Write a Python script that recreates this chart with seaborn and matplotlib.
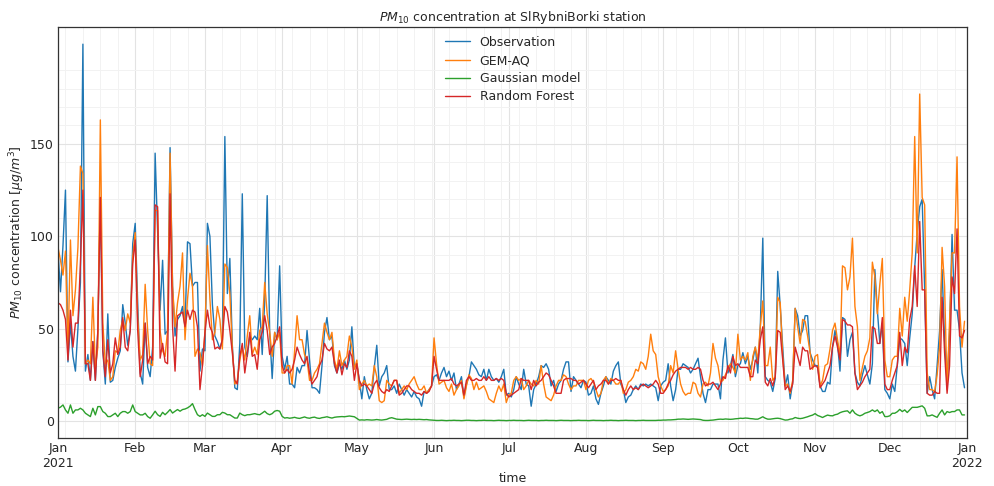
import matplotlib
matplotlib.use("Agg")
import matplotlib.pyplot as plt
import matplotlib.dates as mdates
import matplotlib.ticker as mticker
import pandas as pd
import seaborn as sns

START = "2021-01-01"

observation = [
    92, 70, 95, 125, 32, 53, 35, 27, 50, 75,
    204, 27, 36, 22, 43, 22, 49, 121, 38, 20,
    58, 21, 22, 29, 34, 38, 63, 53, 41, 49,
    96, 107, 64, 26, 20, 53, 29, 24, 40, 145,
    102, 60, 87, 47, 49, 148, 73, 46, 55, 57,
    62, 51, 97, 96, 73, 75, 75, 27, 39, 38,
    107, 100, 63, 46, 43, 39, 44, 154, 69, 88,
    41, 18, 17, 42, 123, 40, 35, 46, 44, 46,
    44, 61, 36, 65, 122, 48, 23, 48, 44, 84,
    35, 28, 35, 20, 20, 18, 29, 26, 30, 30,
    49, 33, 18, 18, 17, 15, 30, 48, 56, 44,
    46, 30, 26, 31, 28, 33, 28, 33, 51, 29,
    31, 22, 12, 24, 17, 12, 15, 29, 41, 19,
    24, 26, 30, 17, 17, 19, 15, 20, 17, 14,
    17, 15, 13, 16, 13, 12, 8, 16, 15, 17,
    19, 24, 25, 22, 26, 29, 24, 27, 22, 26,
    17, 20, 24, 13, 20, 24, 32, 30, 28, 25,
    24, 28, 22, 28, 24, 22, 23, 21, 24, 28,
    14, 15, 13, 17, 24, 20, 17, 28, 20, 19,
    8, 17, 20, 24, 30, 29, 31, 28, 19, 22,
    16, 20, 22, 28, 32, 32, 16, 24, 22, 20,
    18, 22, 21, 14, 15, 19, 12, 9, 15, 19,
    24, 22, 20, 27, 30, 32, 20, 17, 10, 13,
    14, 17, 19, 17, 20, 19, 20, 19, 20, 19,
    18, 11, 19, 21, 22, 31, 19, 11, 17, 28,
    28, 31, 30, 29, 26, 28, 31, 34, 24, 15,
    10, 17, 17, 20, 20, 20, 12, 33, 45, 26,
    30, 36, 24, 30, 31, 37, 31, 35, 28, 33,
    40, 26, 51, 99, 24, 22, 21, 16, 23, 81,
    62, 40, 19, 25, 12, 21, 61, 57, 46, 49,
    57, 57, 37, 33, 30, 30, 19, 16, 16, 21,
    20, 40, 49, 42, 27, 56, 55, 35, 44, 48,
    26, 21, 19, 25, 30, 25, 20, 31, 82, 60,
    42, 53, 17, 15, 12, 20, 16, 30, 45, 44,
    42, 30, 45, 58, 83, 102, 116, 120, 71, 15,
    24, 17, 12, 30, 49, 82, 44, 20, 48, 101,
    60, 60, 49, 26, 18,
]

gem_aq = [
    94, 87, 79, 92, 38, 98, 57, 71, 94, 138,
    134, 31, 33, 31, 67, 29, 40, 163, 53, 31,
    33, 22, 24, 38, 37, 49, 55, 49, 58, 53,
    89, 102, 56, 33, 36, 74, 49, 31, 30, 114,
    114, 49, 38, 35, 49, 145, 73, 51, 64, 73,
    91, 44, 66, 80, 73, 35, 39, 37, 30, 48,
    95, 66, 44, 48, 62, 55, 39, 85, 83, 69,
    39, 20, 22, 33, 40, 33, 46, 57, 36, 40,
    36, 49, 51, 75, 58, 48, 35, 48, 44, 48,
    26, 26, 30, 30, 20, 38, 57, 44, 44, 36,
    33, 22, 22, 26, 28, 31, 42, 53, 48, 44,
    48, 33, 28, 38, 30, 33, 35, 46, 40, 28,
    33, 17, 20, 22, 19, 20, 19, 30, 24, 11,
    10, 11, 22, 20, 19, 22, 22, 15, 17, 19,
    17, 20, 22, 24, 20, 17, 17, 19, 15, 17,
    19, 45, 31, 20, 21, 22, 18, 16, 20, 14,
    17, 19, 22, 12, 19, 25, 23, 17, 21, 17,
    18, 19, 16, 12, 11, 10, 15, 19, 16, 20,
    10, 14, 15, 22, 24, 22, 23, 17, 19, 22,
    20, 19, 22, 20, 30, 20, 13, 12, 11, 14,
    19, 22, 22, 25, 24, 20, 17, 19, 19, 22,
    22, 22, 17, 22, 23, 21, 17, 13, 15, 22,
    24, 20, 23, 22, 20, 20, 22, 15, 17, 21,
    22, 24, 28, 27, 32, 31, 28, 35, 47, 38,
    36, 24, 19, 16, 17, 19, 30, 26, 38, 28,
    20, 16, 14, 15, 15, 21, 20, 15, 13, 20,
    21, 19, 26, 42, 34, 30, 21, 22, 25, 28,
    31, 29, 26, 47, 33, 35, 33, 37, 22, 35,
    40, 33, 51, 65, 30, 30, 40, 22, 24, 67,
    64, 35, 19, 20, 15, 22, 61, 51, 42, 55,
    54, 46, 37, 28, 35, 36, 19, 22, 30, 31,
    39, 49, 53, 44, 35, 84, 83, 71, 78, 99,
    62, 51, 22, 29, 35, 38, 45, 86, 78, 58,
    74, 88, 33, 24, 24, 33, 35, 35, 61, 46,
    67, 54, 71, 91, 154, 91, 177, 121, 117, 26,
    17, 17, 16, 25, 40, 94, 73, 17, 54, 91,
    91, 143, 62, 40, 54,
]

gaussian = [
    6.9, 7.5, 8.7, 6.0, 4.2, 8.7, 4.2, 6.0, 6.0, 6.9,
    6.0, 4.2, 3.3, 2.4, 6.9, 3.3, 7.8, 7.8, 5.1, 4.2,
    2.4, 2.4, 3.3, 4.2, 2.4, 4.2, 5.1, 5.1, 4.2, 5.1,
    8.7, 5.1, 4.2, 3.3, 3.3, 4.2, 2.4, 1.5, 3.3, 5.3,
    3.4, 2.5, 4.7, 3.4, 4.7, 6.2, 4.3, 5.3, 6.2, 5.3,
    6.2, 6.5, 7.1, 8.0, 9.4, 6.2, 3.4, 2.5, 3.4, 2.5,
    4.3, 3.4, 2.5, 2.5, 3.4, 3.4, 4.7, 4.3, 3.4, 3.4,
    2.5, 1.6, 1.6, 4.3, 3.4, 2.9, 3.4, 3.4, 3.7, 4.0,
    3.6, 3.4, 4.3, 5.3, 4.0, 3.4, 4.0, 5.3, 5.7, 5.3,
    2.5, 1.6, 1.8, 1.5, 1.7, 2.0, 1.6, 1.4, 1.8, 2.2,
    1.7, 1.5, 1.9, 2.1, 1.6, 1.4, 1.8, 2.0, 2.3, 1.9,
    1.6, 2.0, 2.2, 2.3, 2.4, 2.3, 2.5, 2.7, 2.5, 2.3,
    1.4, 0.5, 0.6, 0.5, 0.7, 0.6, 0.5, 0.6, 0.8, 0.6,
    0.5, 0.7, 0.9, 1.5, 1.8, 1.4, 1.0, 0.9, 0.8, 0.9,
    1.0, 0.9, 0.8, 0.9, 0.8, 0.9, 0.8, 0.7, 0.8, 0.6,
    0.5, 0.4, 0.3, 0.3, 0.4, 0.3, 0.2, 0.3, 0.3, 0.4,
    0.3, 0.3, 0.2, 0.3, 0.4, 0.4, 0.3, 0.3, 0.2, 0.3,
    0.3, 0.4, 0.3, 0.3, 0.3, 0.2, 0.3, 0.4, 0.3, 0.3,
    0.2, 0.3, 0.3, 0.4, 0.3, 0.3, 0.3, 0.2, 0.3, 0.4,
    0.3, 0.3, 0.3, 0.2, 0.3, 0.3, 0.4, 0.3, 0.3, 0.3,
    0.2, 0.3, 0.4, 0.3, 0.3, 0.3, 0.2, 0.3, 0.3, 0.4,
    0.3, 0.3, 0.3, 0.2, 0.3, 0.4, 0.3, 0.3, 0.3, 0.2,
    0.3, 0.3, 0.4, 0.3, 0.3, 0.2, 0.3, 0.3, 0.4, 0.3,
    0.3, 0.3, 0.2, 0.3, 0.3, 0.4, 0.3, 0.3, 0.3, 0.3,
    0.3, 0.4, 0.4, 0.5, 0.5, 0.6, 0.6, 0.7, 0.8, 1.0,
    1.0, 1.1, 1.0, 0.9, 1.0, 1.1, 1.0, 0.9, 0.8, 0.4,
    0.3, 0.3, 0.4, 0.5, 0.7, 0.9, 1.0, 0.9, 1.1, 1.0,
    0.9, 1.0, 1.2, 1.3, 1.5, 1.4, 1.6, 1.5, 1.3, 1.2,
    1.0, 1.0, 1.6, 2.3, 1.5, 1.0, 1.0, 1.2, 1.4, 1.5,
    1.3, 0.9, 0.5, 0.6, 1.0, 1.2, 1.9, 1.5, 1.3, 1.5,
    1.9, 2.3, 2.8, 3.2, 4.0, 3.0, 2.5, 1.9, 2.6, 3.2,
    2.9, 2.8, 3.4, 3.7, 4.5, 5.0, 5.3, 5.5, 4.2, 6.0,
    4.2, 3.3, 2.8, 3.3, 4.2, 4.6, 5.1, 6.0, 5.1, 6.0,
    4.2, 5.1, 2.4, 2.4, 2.8, 4.2, 4.2, 5.0, 6.3, 5.1,
    6.0, 4.6, 6.0, 7.4, 7.4, 7.4, 7.8, 8.2, 6.9, 2.8,
    2.8, 3.3, 2.6, 2.0, 4.2, 6.0, 3.3, 5.1, 4.6, 5.1,
    5.1, 6.0, 6.0, 3.3, 3.3,
]

random_forest = [
    64, 63, 60, 55, 33, 60, 40, 53, 53, 85,
    125, 31, 31, 22, 43, 22, 49, 121, 38, 24,
    44, 26, 31, 45, 36, 40, 56, 40, 38, 49,
    85, 98, 49, 24, 33, 53, 31, 35, 33, 117,
    116, 34, 42, 32, 31, 123, 51, 27, 57, 58,
    59, 51, 60, 55, 60, 59, 51, 17, 30, 48,
    60, 51, 48, 39, 40, 39, 44, 62, 59, 49,
    37, 22, 20, 35, 42, 26, 36, 48, 35, 36,
    28, 44, 48, 57, 49, 36, 40, 42, 46, 51,
    30, 26, 28, 26, 28, 33, 40, 36, 33, 31,
    35, 26, 20, 22, 24, 30, 33, 42, 39, 38,
    40, 31, 26, 33, 25, 31, 29, 38, 35, 22,
    31, 22, 19, 20, 19, 17, 15, 20, 22, 18,
    16, 15, 17, 16, 19, 22, 22, 14, 15, 17,
    19, 19, 17, 16, 15, 15, 14, 16, 15, 16,
    19, 35, 28, 22, 22, 22, 22, 22, 23, 20,
    19, 20, 21, 14, 22, 24, 22, 22, 23, 22,
    22, 24, 22, 24, 22, 22, 23, 22, 23, 22,
    15, 13, 14, 15, 16, 17, 23, 22, 22, 22,
    17, 22, 19, 21, 22, 24, 26, 25, 22, 19,
    15, 15, 15, 22, 23, 23, 23, 22, 22, 20,
    21, 22, 20, 18, 20, 22, 17, 19, 20, 22,
    22, 20, 22, 22, 23, 22, 22, 17, 14, 17,
    19, 17, 18, 17, 19, 20, 19, 18, 19, 20,
    22, 20, 15, 15, 17, 20, 22, 25, 27, 28,
    29, 29, 29, 28, 29, 28, 28, 29, 28, 22,
    19, 20, 20, 21, 19, 17, 20, 24, 23, 30,
    26, 35, 30, 31, 29, 29, 29, 29, 24, 24,
    33, 31, 44, 51, 21, 19, 23, 19, 24, 49,
    48, 33, 17, 19, 16, 20, 40, 35, 30, 40,
    38, 38, 28, 29, 30, 29, 18, 20, 22, 26,
    30, 40, 46, 40, 33, 55, 54, 52, 52, 51,
    26, 17, 19, 21, 24, 26, 28, 51, 50, 42,
    42, 56, 20, 17, 17, 22, 26, 30, 48, 30,
    40, 37, 55, 62, 84, 62, 108, 71, 71, 15,
    14, 14, 16, 15, 15, 67, 37, 15, 30, 78,
    69, 104, 46, 45, 49,
]

series_names = ["Observation", "GEM-AQ", "Gaussian model", "Random Forest"]
series_values = [observation, gem_aq, gaussian, random_forest]
series_colors = ["#1f77b4", "#ff7f0e", "#2ca02c", "#d62728"]

month_ticks = pd.date_range("2021-01-01", "2022-01-01", freq="MS")
y_major = [0, 50, 100, 150]
y_minor = [v for v in range(10, 200, 10) if v % 50 != 0]

sns.set_style("whitegrid")
plt.rcParams["font.family"] = ["DejaVu Sans"]
plt.rcParams["font.size"] = 9

fig = plt.figure(figsize=(9.95, 4.86), dpi=100)
ax = fig.add_axes([58 / 995, 1 - 438 / 486, (967 - 58) / 995, (438 - 27) / 486])

for name, vals, col in zip(series_names, series_values, series_colors):
    df = pd.DataFrame({"time": pd.date_range(START, periods=len(vals), freq="D"),
                       "value": vals})
    sns.lineplot(data=df, x="time", y="value", ax=ax, color=col,
                 linewidth=1.0, label=name)

ax.set_xlim(pd.Timestamp("2021-01-01"), pd.Timestamp("2022-01-01"))
ax.set_ylim(-9.2, 213.3)

ax.xaxis.set_major_locator(mticker.FixedLocator(mdates.date2num(month_ticks)))
ax.xaxis.set_minor_locator(mdates.WeekdayLocator(byweekday=mdates.MO))


def month_fmt(x, pos):
    d = mdates.num2date(x)
    return f"{d:%b}\n{d:%Y}" if d.month == 1 else f"{d:%b}"


ax.xaxis.set_major_formatter(mticker.FuncFormatter(month_fmt))
ax.yaxis.set_major_locator(mticker.FixedLocator(y_major))
ax.yaxis.set_minor_locator(mticker.FixedLocator(y_minor))

ax.grid(which="major", color="#e3e3e3", linewidth=0.8)
ax.grid(which="minor", color="#f2f2f2", linewidth=0.7)
ax.set_axisbelow(True)
ax.tick_params(which="both", length=0, labelsize=9, colors="#262626")
ax.tick_params(axis="x", pad=3)
ax.tick_params(axis="y", pad=3)

for s in ax.spines.values():
    s.set_visible(True)
    s.set_color("#333333")
    s.set_linewidth(0.9)

ax.set_title(r"$PM_{10}$ concentration at SlRybniBorki station", fontsize=9,
             color="#262626", pad=4)
ax.set_xlabel("time", fontsize=9, color="#262626", labelpad=1)
ax.set_ylabel(r"$PM_{10}$ concentration [$\mu g/m^3$]", fontsize=9,
              color="#262626")
ax.yaxis.set_label_coords(-0.034, 0.5)

ax.legend(loc="upper center", frameon=False, fontsize=9, handlelength=2.0,
          labelspacing=0.42, borderaxespad=0.3)

fig.savefig("out.png", dpi=100)
